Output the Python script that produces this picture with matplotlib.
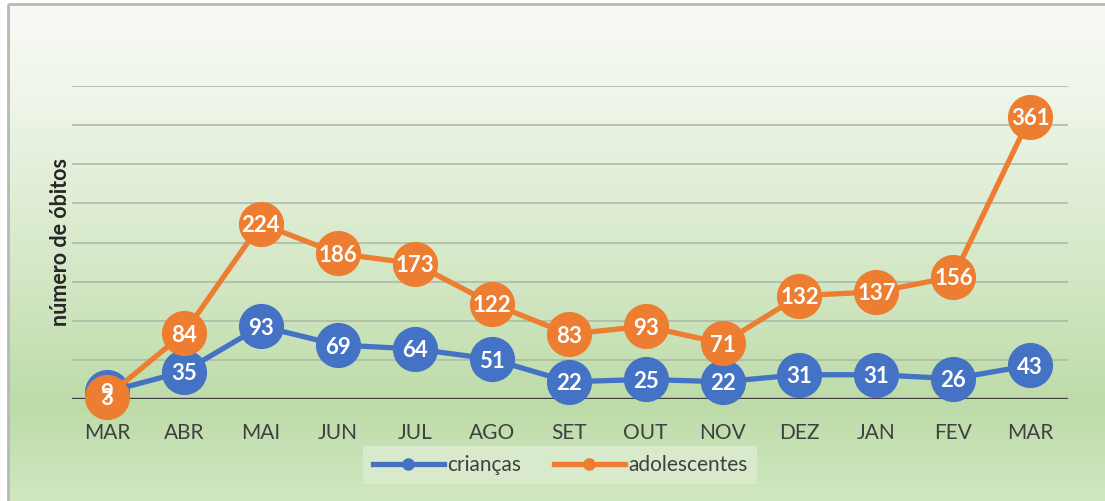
import numpy as np
import matplotlib
matplotlib.use('Agg')
from matplotlib import pyplot as plt
from matplotlib.lines import Line2D
from matplotlib.patches import Rectangle
from matplotlib.colors import LinearSegmentedColormap

months = ['MAR', 'ABR', 'MAI', 'JUN', 'JUL', 'AGO', 'SET', 'OUT', 'NOV', 'DEZ', 'JAN', 'FEV', 'MAR']
criancas = [9, 35, 93, 69, 64, 51, 22, 25, 22, 31, 31, 26, 43]
adolescentes = [3, 84, 224, 186, 173, 122, 83, 93, 71, 132, 137, 156, 361]

BLUE = '#4472C4'
ORANGE = '#ED7D31'
TXT = '#404040'
FONT = 'Lato'

plt.rcParams['font.family'] = [FONT, 'DejaVu Sans']

fig = plt.figure(figsize=(11.05, 5.01), dpi=100)

# background gradient (chart area) with a gray frame
W, H = 1105, 501
bg = fig.add_axes([0, 0, 1, 1], zorder=-10)
bg.set_xlim(0, W)
bg.set_ylim(H, 0)
bg.axis('off')
cmap = LinearSegmentedColormap.from_list('g', [
    (0.0, '#f8faf5'), (0.2, '#eef5e8'), (0.55, '#d3e7c4'),
    (0.8, '#bddba8'), (1.0, '#d2e8c3')])
grad = np.linspace(0, 1, 256).reshape(-1, 1)
bg.imshow(grad, cmap=cmap, aspect='auto', extent=[8, W + 5, H + 5, 4], zorder=0)
bg.add_patch(Rectangle((8, 4), W, H, fill=False, edgecolor='#b8b8b8', lw=2, zorder=1))

ax = fig.add_axes([72 / W, (H - 399) / H, (1068 - 72) / W, (399 - 86) / H])
ax.patch.set_alpha(0)
x = np.arange(len(months))
ax.set_xlim(-0.455, 12.49)
ax.set_ylim(0, 400)
ax.set_yticks(range(50, 401, 50))
ax.yaxis.grid(True, color='#a9b8a3', lw=1.1)
ax.set_yticklabels([])
ax.tick_params(axis='y', length=0)
ax.set_xticks(x)
ax.set_xticklabels(months, fontsize=15, color=TXT)
ax.tick_params(axis='x', length=0, pad=17)
for s in ax.spines.values():
    s.set_visible(False)
ax.axhline(0, color=TXT, lw=2.4, zorder=2)

ax.set_ylabel('número de óbitos', fontsize=15.5, fontweight='bold', color='#262626', labelpad=-3)

for vals, col, z in [(criancas, BLUE, 3), (adolescentes, ORANGE, 4)]:
    ax.plot(x, vals, color=col, lw=3.8, marker='o', markersize=31.5,
            markerfacecolor=col, markeredgecolor=col, clip_on=False, zorder=z)
    for xi, v in zip(x, vals):
        ax.text(xi, v, str(v), ha='center', va='center_baseline', color='white',
                fontsize=16, fontweight='bold', zorder=10, clip_on=False)

handles = [Line2D([], [], color=BLUE, lw=3.8, marker='o', markersize=8),
           Line2D([], [], color=ORANGE, lw=3.8, marker='o', markersize=8)]
leg = fig.legend(handles, ['crianças', 'adolescentes'], loc='center',
                 bbox_to_anchor=(560 / W, 1 - 465 / H), ncol=2, frameon=True,
                 fancybox=False, facecolor='#d8e9cc', edgecolor='none', framealpha=1,
                 fontsize=15, handlelength=3.4, handletextpad=0.15, columnspacing=1.6,
                 borderpad=0.45)
for t in leg.get_texts():
    t.set_color(TXT)

fig.savefig('out.png', dpi=100)
